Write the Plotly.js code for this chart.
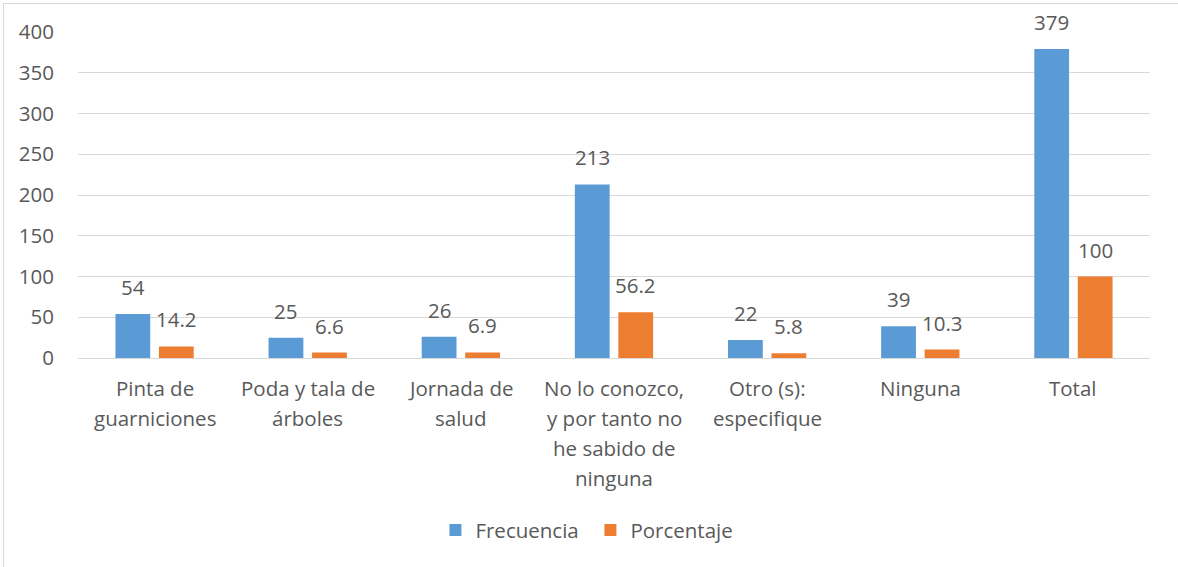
<!DOCTYPE html>
<html>
<head>
<meta charset="utf-8">
<script src="https://cdn.plot.ly/plotly-3.0.1.min.js"></script>
<style>
  html, body { margin: 0; padding: 0; background: #ffffff; overflow: hidden; }
  #wrap { position: relative; width: 1178px; height: 567px; }
  #chart { position: absolute; left: 0; top: 0; width: 1178px; height: 567px; }
  #frame { position: absolute; left: 3px; top: 3px; width: 1174px; height: 570px; border: 1px solid #d9d9d9; pointer-events: none; }
</style>
</head>
<body>
<div id="wrap">
  <div id="chart"></div>
  <div id="frame"></div>
</div>
<script>
// ---- data ----
const categoryLines = [
  ["Pinta de", "guarniciones"],
  ["Poda y tala de", "árboles"],
  ["Jornada de", "salud"],
  ["No lo conozco,", "y por tanto no", "he sabido de", "ninguna"],
  ["Otro (s):", "especifique"],
  ["Ninguna"],
  ["Total"]
];
const categories = categoryLines.map(l => l.join(" "));
const frecuencia = [54, 25, 26, 213, 22, 39, 379];
const porcentaje = [14.2, 6.6, 6.9, 56.2, 5.8, 10.3, 100];
const yTicks = [0, 50, 100, 150, 200, 250, 300, 350, 400];

// ---- styles ----
const FONT = "Open Sans, sans-serif";
const TXT = "#595959";
const BLUE = "#5B9BD5";
const ORANGE = "#ED7D31";
const FS = 20.5;
const BAR_OFFSET = 21.75;

const traces = [
  { type: "bar", name: "Frecuencia", x: categories, y: frecuencia,
    marker: { color: BLUE }, hoverinfo: "none" },
  { type: "bar", name: "Porcentaje", x: categories, y: porcentaje,
    marker: { color: ORANGE }, hoverinfo: "none" }
];

const annotations = [];
// data labels
[[frecuencia, -BAR_OFFSET], [porcentaje, BAR_OFFSET]].forEach(([vals, dx]) => {
  vals.forEach((v, i) => {
    annotations.push({
      x: categories[i], y: v, xref: "x", yref: "y",
      text: String(v), showarrow: false,
      xanchor: "center", yanchor: "bottom",
      xshift: dx, yshift: 11,
      font: { family: FONT, size: FS, color: TXT }
    });
  });
});
// category labels (line by line, Excel-like spacing)
categoryLines.forEach((lines, i) => {
  lines.forEach((ln, j) => {
    annotations.push({
      x: categories[i], y: 0, xref: "x", yref: "paper",
      text: ln, showarrow: false,
      xanchor: "center", yanchor: "middle",
      yshift: -30 - 30 * j,
      font: { family: FONT, size: FS, color: TXT }
    });
  });
});

const layout = {
  width: 1178, height: 567,
  margin: { l: 78, r: 28, t: 32, b: 209 },
  paper_bgcolor: "#ffffff", plot_bgcolor: "#ffffff",
  font: { family: FONT, size: FS, color: TXT },
  barmode: "group",
  bargap: 0.432,
  bargroupgap: 0.2,
  showlegend: true,
  legend: {
    orientation: "h", x: 0.478, xanchor: "center",
    y: -0.528, yanchor: "middle",
    font: { family: FONT, size: FS, color: TXT },
    traceorder: "normal",
    entrywidth: 110, entrywidthmode: "pixels"
  },
  xaxis: {
    type: "category",
    showticklabels: false,
    showgrid: false, zeroline: false, showline: false, ticks: ""
  },
  yaxis: {
    range: [0, 400],
    tickvals: yTicks,
    ticktext: yTicks.map(String),
    showgrid: true, gridcolor: "#d9d9d9", gridwidth: 1,
    zeroline: true, zerolinecolor: "#d9d9d9", zerolinewidth: 1,
    showline: false, ticks: "",
    ticklabelstandoff: 23,
    tickfont: { family: FONT, size: FS, color: TXT }
  },
  annotations: annotations
};

Plotly.newPlot("chart", traces, layout, { displayModeBar: false, staticPlot: true });
</script>
</body>
</html>
